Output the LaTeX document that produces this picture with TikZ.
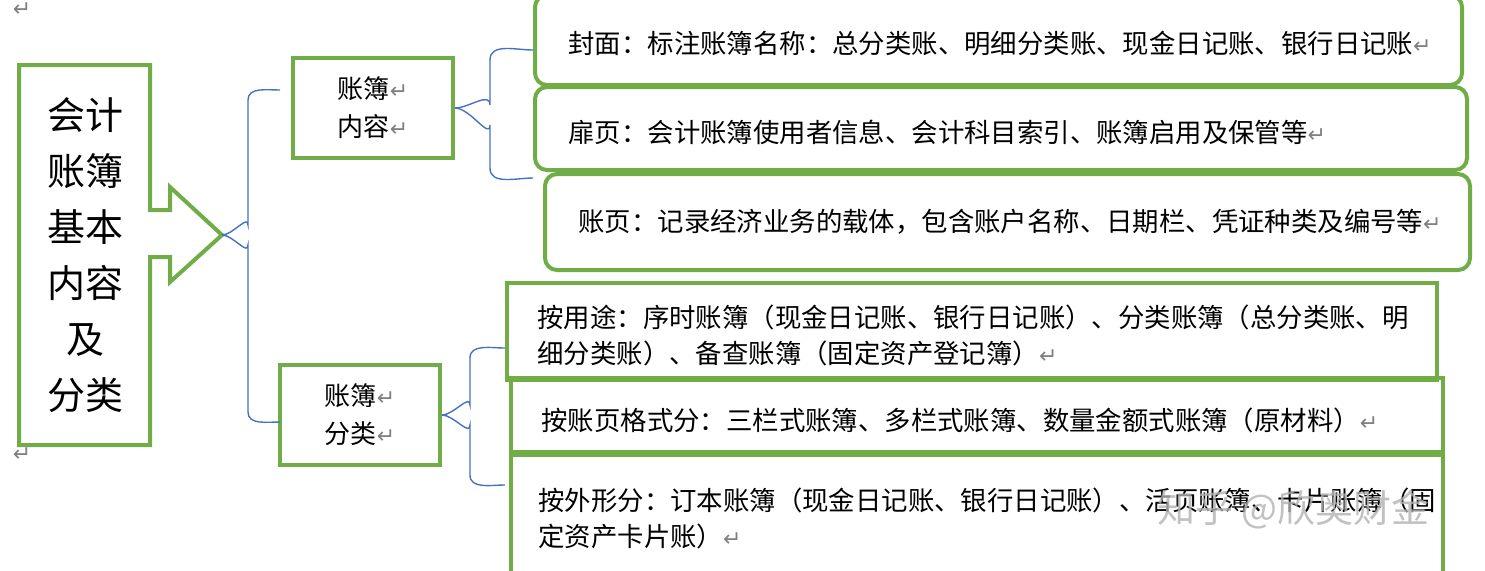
\documentclass[tikz,border=0pt]{standalone}
\usepackage{fontspec}
\setmainfont{Noto Sans CJK SC}
\newfontfamily\markfont{DejaVu Sans}
\usetikzlibrary{positioning}
\newcommand{\pmark}{{\markfont\color{gray}\fontsize{11}{11}\selectfont ↵}}
\definecolor{leafgreen}{HTML}{70AD47}
\definecolor{braceblue}{HTML}{4472C4}
\tikzset{
  gbox/.style={draw=leafgreen, line width=2pt},
  brace/.style={draw=braceblue, line width=0.7pt},
  txt/.style={anchor=west, font=\fontsize{13.2}{18}\selectfont, inner sep=0pt, align=left},
}
\begin{document}
\begin{tikzpicture}[x=0.5pt, y=-0.5pt]
        \useasboundingbox (0,0) rectangle (1485,570);

        % Big arrow on the left
        \draw[gbox, line join=miter] (19,65) -- (150,65) -- (150,210) -- (170,210)
             -- (170,187) -- (222,235) coordinate (tip) -- (170,282) -- (170,257)
             -- (150,257) -- (150,445) -- (19,445) -- cycle;
        \node (title) [align=center, font=\fontsize{19}{28}\selectfont] at (85,255)
             {会计\\账簿\\基本\\内容\\及\\分类};
        \node at (22,10) {\pmark};
        \node at (22,455) {\pmark};

        % Second level boxes
        \node (content) [gbox, minimum width=80pt, minimum height=50pt,
             align=left, font=\fontsize{13}{19}\selectfont] at (373,108) {账簿\pmark\\内容\pmark};
        \node (kinds) [gbox, minimum width=80pt, minimum height=50pt,
             align=left, font=\fontsize{13}{19}\selectfont] at (360,415) {账簿\pmark\\分类\pmark};

        % Leaf boxes
        \draw[gbox, rounded corners=6pt] (535,-5) rectangle (1462,85);
        \draw[gbox, rounded corners=6pt] (535,87) rectangle (1467,170);
        \draw[gbox, rounded corners=6pt] (545,174) rectangle (1470,270);
        \draw[gbox] (507,283) rectangle (1437,380);
        \draw[gbox] (511,378) rectangle (1443,452);
        \draw[gbox] (511,455) rectangle (1443,580);

        \node (cover) [txt] at (568,43) {封面：标注账簿名称：总分类账、明细分类账、现金日记账、银行日记账\pmark};
        \node (flyleaf) [txt] at (568,132) {扉页：会计账簿使用者信息、会计科目索引、账簿启用及保管等\pmark};
        \node (page) [txt] at (578,222) {账页：记录经济业务的载体，包含账户名称、日期栏、凭证种类及编号等\pmark};
        \node (use) [txt] at (537,335) {按用途：序时账簿（现金日记账、银行日记账）、分类账簿（总分类账、明\\细分类账）、备查账簿（固定资产登记簿）\pmark};
        \node (format) [txt] at (541,420) {按账页格式分：三栏式账簿、多栏式账簿、数量金额式账簿（原材料）\pmark};
        \node (shape) [txt] at (538,518) {按外形分：订本账簿（现金日记账、银行日记账）、活页账簿、卡片账簿（固\\定资产卡片账）\pmark};

        % Braces
        \draw[brace] (tip) to[out=0,in=90] (248,225) -- (248,100) to[out=90,in=180] (280,90);
        \draw[brace] (tip) to[out=0,in=-90] (248,245) -- (248,412) to[out=-90,in=180] (280,422);
        \draw[brace] (content.east) to[out=0,in=90] (490,105) -- (490,60) to[out=90,in=180] (533,50);
        \draw[brace] (content.east) to[out=0,in=-90] (490,125) -- (490,168) to[out=-90,in=180] (533,178);
        \draw[brace] (kinds.east) to[out=0,in=90] (470,405) -- (470,358) to[out=90,in=180] (505,348);
        \draw[brace] (kinds.east) to[out=0,in=-90] (470,425) -- (470,475) to[out=-90,in=180] (505,485);

        % Watermark
        \node (wm) [anchor=west, text=gray!60, opacity=0.8, font=\fontsize{19}{19}\selectfont]
             at (1150,510) {知乎 @欣奥财金};
\end{tikzpicture}
\end{document}
